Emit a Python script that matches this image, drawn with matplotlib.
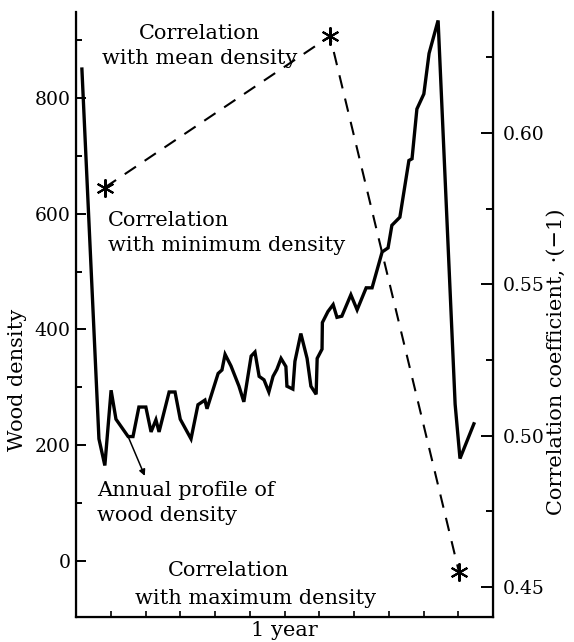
import numpy as np
import matplotlib
matplotlib.use("Agg")
import matplotlib.pyplot as plt
from matplotlib.ticker import MultipleLocator, NullFormatter

plt.rcParams['font.family'] = ['DejaVu Serif']

# annual density profile (x in months, density in kg/m3)
month = [0.17, 0.66, 0.83, 1.01, 1.15, 1.50, 1.64, 1.81, 2.01, 2.16, 2.30, 2.39,
         2.68, 2.85, 3.00, 3.31, 3.51, 3.71, 3.77, 4.09, 4.20, 4.29, 4.46, 4.69,
         4.83, 5.04, 5.15, 5.27, 5.41, 5.55, 5.67, 5.78, 5.90, 6.04, 6.07, 6.24,
         6.30, 6.47, 6.65, 6.76, 6.91, 6.94, 7.08, 7.09, 7.25, 7.40, 7.51, 7.65,
         7.91, 8.09, 8.35, 8.52, 8.81, 8.98, 9.09, 9.32, 9.58, 9.67, 9.81, 10.01,
         10.16, 10.42, 10.91, 11.05, 11.45]
density = [850, 211, 165, 295, 245, 215, 215, 266, 266, 223, 244, 223,
           292, 292, 245, 211, 270, 278, 263, 324, 330, 357, 337, 302,
           275, 354, 361, 319, 313, 292, 319, 331, 350, 336, 302, 297,
           345, 393, 350, 302, 288, 350, 366, 412, 431, 443, 421, 423,
           460, 434, 472, 472, 534, 541, 580, 594, 692, 695, 781, 807,
           877, 934, 271, 177, 237]

# correlation coefficients (min, mean, max density)
corr_x = [0.83, 7.31, 11.02]
corr_val = [0.582, 0.632, 0.455]

fig = plt.figure(figsize=(5.74, 6.42), dpi=100)
ax = fig.add_axes([76/574, 1-617/642, (493-76)/574, (617-12)/642])
ax2 = ax.twinx()

ax.plot(month, density, color='black', lw=2.4, solid_joinstyle='miter', zorder=3)
ax2.plot(corr_x, corr_val, color='black', lw=1.5, dashes=(6.5, 5))
ax2.plot(corr_x, corr_val, ls='none', marker=(6, 2, 0), ms=13, mew=1.5, color='black')

ax.set_xlim(0, 12)
ax.set_ylim(-96.8, 948.6)
ax2.set_ylim(0.4401, 0.640)

ax.spines['top'].set_visible(False)
ax2.spines['top'].set_visible(False)
for sp in ['left', 'bottom']:
    ax.spines[sp].set_linewidth(1.6)
ax2.spines['right'].set_linewidth(1.6)

ax.set_yticks([0, 200, 400, 600, 800])
ax.yaxis.set_minor_locator(MultipleLocator(100))
ax.set_xticks([])
ax.xaxis.set_minor_locator(MultipleLocator(1))
ax.tick_params(axis='y', which='major', direction='in', length=7, width=1.4, labelsize=13.5, pad=4)
ax.tick_params(axis='y', which='minor', direction='in', length=4, width=1.4)
ax.tick_params(axis='x', which='minor', direction='in', length=4, width=1.2)

ax2.set_yticks([0.45, 0.50, 0.55, 0.60])
ax2.set_yticklabels(['0.45', '0.50', '0.55', '0.60'])
ax2.yaxis.set_minor_locator(MultipleLocator(0.025))
ax2.yaxis.set_minor_formatter(NullFormatter())
ax2.tick_params(axis='y', which='major', direction='in', length=9, width=1.4, labelsize=13.5, pad=7)
ax2.tick_params(axis='y', which='minor', direction='in', length=5, width=1.4)

fs = 15
fig.text(18/574, 1-380/642, 'Wood density', rotation=90, ha='center', va='center', fontsize=fs)
fig.text(556/574, 1-362/642, 'Correlation coefficient, ·(−1)', rotation=90,
         ha='center', va='center', fontsize=fs)
fig.text(284/574, 1-630/642, '1 year', ha='center', va='center', fontsize=fs)

fig.text(200/574, 1-46/642, 'Correlation\nwith mean density', ha='center', va='center',
         fontsize=fs, linespacing=1.35)
fig.text(108/574, 1-233/642, 'Correlation\nwith minimum density', ha='left', va='center',
         fontsize=fs, linespacing=1.35)
fig.text(97/574, 1-503/642, 'Annual profile of\nwood density', ha='left', va='center',
         fontsize=fs, linespacing=1.35)
fig.text(168/574, 1-571/642, 'Correlation', ha='left', va='center', fontsize=fs)
fig.text(135/574, 1-598/642, 'with maximum density', ha='left', va='center', fontsize=fs)

ax.annotate('', xy=(1.98, 147), xytext=(1.5, 215),
            arrowprops=dict(arrowstyle='-|>', color='black', lw=1.1,
                            mutation_scale=9, shrinkA=0, shrinkB=0))

fig.savefig('out.png', dpi=100)
